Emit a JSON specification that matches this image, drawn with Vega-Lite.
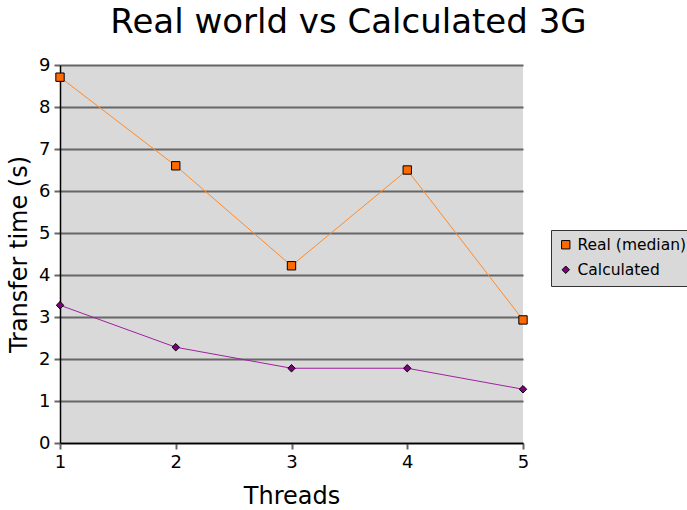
{
  "$schema": "https://vega.github.io/schema/vega-lite/v6.json",
  "width": 463,
  "height": 378,
  "autosize": {"type": "none"},
  "padding": {"left": 60, "top": 65, "right": 164, "bottom": 67},
  "background": "white",
  "title": {
    "text": "Real world vs Calculated 3G",
    "font": "DejaVu Sans",
    "fontSize": 34,
    "fontWeight": "normal",
    "color": "black",
    "anchor": "middle",
    "frame": "group",
    "dx": 57,
    "offset": 16
  },
  "config": {
    "font": "DejaVu Sans",
    "view": {"fill": "#d9d9d9", "stroke": null},
    "axis": {
      "labelFont": "DejaVu Sans",
      "labelFontSize": 18,
      "labelColor": "black",
      "labelFlush": false,
      "labelOverlap": false,
      "titleFont": "DejaVu Sans",
      "titleFontSize": 24,
      "titleFontWeight": "normal",
      "titleColor": "black",
      "domainColor": "black",
      "domainWidth": 1.5,
      "tickColor": "#666666",
      "tickWidth": 2,
      "tickSize": 6
    },
    "legend": {
      "labelFont": "DejaVu Sans",
      "labelFontSize": 15.5,
      "labelColor": "black"
    }
  },
  "data": {
    "values": [
      {"threads": 1, "series": "Real (median)", "time": 8.71},
      {"threads": 2, "series": "Real (median)", "time": 6.6},
      {"threads": 3, "series": "Real (median)", "time": 4.22},
      {"threads": 4, "series": "Real (median)", "time": 6.5},
      {"threads": 5, "series": "Real (median)", "time": 2.93},
      {"threads": 1, "series": "Calculated", "time": 3.28},
      {"threads": 2, "series": "Calculated", "time": 2.28},
      {"threads": 3, "series": "Calculated", "time": 1.78},
      {"threads": 4, "series": "Calculated", "time": 1.78},
      {"threads": 5, "series": "Calculated", "time": 1.28}
    ]
  },
  "encoding": {
    "x": {
      "field": "threads",
      "type": "quantitative",
      "title": "Threads",
      "scale": {"domain": [1, 5], "nice": false, "zero": false},
      "axis": {"values": [1, 2, 3, 4, 5], "grid": false, "labelPadding": 4, "titlePadding": 13, "format": "d"}
    },
    "y": {
      "field": "time",
      "type": "quantitative",
      "title": "Transfer time (s)",
      "scale": {"domain": [0, 9], "nice": false},
      "axis": {
        "values": [0, 1, 2, 3, 4, 5, 6, 7, 8, 9],
        "grid": true,
        "gridColor": "#666666",
        "gridWidth": 2,
        "labelPadding": 4,
        "titlePadding": 7
      }
    }
  },
  "layer": [
    {
      "mark": {"type": "line", "strokeWidth": 1},
      "encoding": {
        "detail": {"field": "series", "type": "nominal"},
        "stroke": {
          "condition": {"test": "datum.series === 'Calculated'", "value": "#a020a0"},
          "value": "#ff8a2a"
        }
      }
    },
    {
      "mark": {"type": "point", "filled": true, "opacity": 1, "stroke": "black", "strokeWidth": 1},
      "encoding": {
        "color": {
          "field": "series",
          "type": "nominal",
          "scale": {"domain": ["Real (median)", "Calculated"], "range": ["#ff6a00", "#7f007f"]},
          "legend": {
            "title": null,
            "orient": "none",
            "legendX": 491,
            "legendY": 165,
            "fillColor": "#d9d9d9",
            "strokeColor": "#333333",
            "padding": 7,
            "rowPadding": 8,
            "symbolSize": 60,
            "symbolStrokeColor": "black",
            "symbolStrokeWidth": 1
          }
        },
        "shape": {
          "field": "series",
          "type": "nominal",
          "scale": {"domain": ["Real (median)", "Calculated"], "range": ["square", "diamond"]}
        },
        "size": {
          "field": "series",
          "type": "nominal",
          "scale": {"domain": ["Real (median)", "Calculated"], "range": [70, 55]},
          "legend": null
        }
      }
    }
  ]
}
